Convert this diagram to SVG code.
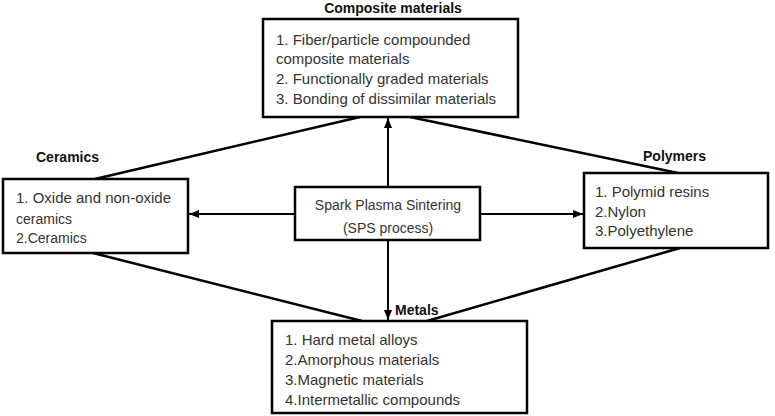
<svg xmlns="http://www.w3.org/2000/svg" width="775" height="416" viewBox="0 0 775 416">
  <defs>
    <marker id="arrow" viewBox="0 0 10 8" refX="10" refY="4" markerWidth="10" markerHeight="8" markerUnits="userSpaceOnUse" orient="auto">
      <path d="M0,0 L10,4 L0,8 Z" fill="#000"/>
    </marker>
  </defs>
  <style>
    .box { fill: #fff; stroke: #000; stroke-width: 2.5; }
    .txt { font-family: "Liberation Sans", Arial, sans-serif; font-size: 15px; fill: #333; }
    .sm { font-size: 14px; }
    .ttl { font-family: "Liberation Sans", Arial, sans-serif; font-size: 14px; font-weight: bold; fill: #111; }
    .ctr { text-anchor: middle; }
    .link { stroke: #000; stroke-width: 2.5; fill: none; }
    .arr { stroke: #000; stroke-width: 2; fill: none; marker-end: url(#arrow); }
  </style>
  <rect width="775" height="416" fill="#fff"/>

  <g id="connectors">
    <line class="link" x1="360" y1="117" x2="95" y2="179"/>
    <line class="link" x1="410" y1="117" x2="678" y2="173"/>
    <line class="link" x1="93" y1="253" x2="362" y2="321"/>
    <line class="link" x1="680" y1="248" x2="427" y2="321"/>
    <line class="arr" x1="388" y1="187" x2="388" y2="118"/>
    <line class="arr" x1="388" y1="240" x2="388" y2="320"/>
    <line class="arr" x1="295" y1="214" x2="189" y2="214"/>
    <line class="arr" x1="480" y1="214" x2="583" y2="214"/>
  </g>

  <g id="composite">
    <text class="ttl ctr" x="393" y="13">Composite materials</text>
    <rect class="box" x="263" y="19" width="255" height="98"/>
    <text class="txt" x="276" y="45">1. Fiber/particle compounded</text>
    <text class="txt" x="276" y="64">composite materials</text>
    <text class="txt" x="276" y="84">2. Functionally graded materials</text>
    <text class="txt" x="276" y="104">3. Bonding of dissimilar materials</text>
  </g>

  <g id="ceramics">
    <text class="ttl" x="36" y="162">Ceramics</text>
    <rect class="box" x="3" y="179" width="185" height="74"/>
    <text class="txt sm" x="16" y="203" textLength="155" lengthAdjust="spacingAndGlyphs">1. Oxide and non-oxide</text>
    <text class="txt sm" x="16" y="224">ceramics</text>
    <text class="txt sm" x="16" y="243">2.Ceramics</text>
  </g>

  <g id="sps">
    <rect class="box" x="295" y="187" width="185" height="53"/>
    <text class="txt sm ctr" x="388" y="210" fill="#444">Spark Plasma Sintering</text>
    <text class="txt sm ctr" x="388" y="233">(SPS process)</text>
  </g>

  <g id="polymers">
    <text class="ttl" x="643" y="161">Polymers</text>
    <rect class="box" x="584" y="173" width="184" height="75"/>
    <text class="txt" x="595" y="197">1. Polymid resins</text>
    <text class="txt" x="595" y="217">2.Nylon</text>
    <text class="txt" x="595" y="236">3.Polyethylene</text>
  </g>

  <g id="metals">
    <text class="ttl" x="395" y="315">Metals</text>
    <rect class="box" x="272" y="321" width="255" height="92"/>
    <text class="txt" x="285" y="345">1. Hard metal alloys</text>
    <text class="txt" x="285" y="365">2.Amorphous materials</text>
    <text class="txt" x="285" y="385">3.Magnetic materials</text>
    <text class="txt" x="285" y="405">4.Intermetallic compounds</text>
  </g>
</svg>
